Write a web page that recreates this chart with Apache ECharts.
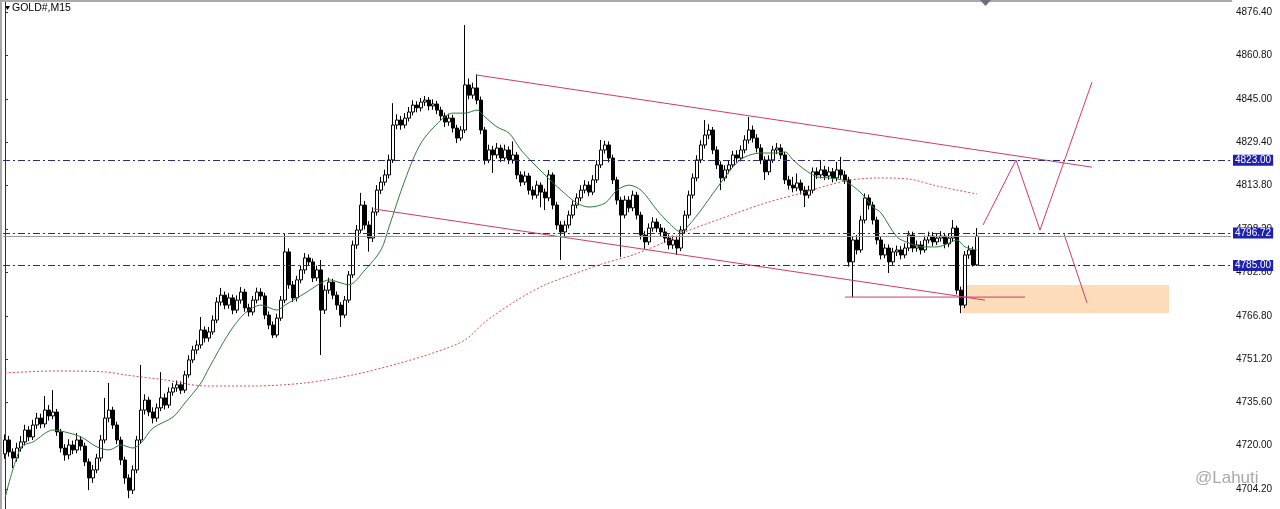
<!DOCTYPE html>
<html><head><meta charset="utf-8">
<script src="https://cdn.jsdelivr.net/npm/echarts@6/dist/echarts.min.js"></script>
<style>html,body{margin:0;padding:0;background:#fff}#c{width:1280px;height:509px}</style>
</head><body><div id="c"></div><script>
// ---- data ----
const yTicks = [4704.20, 4720.00, 4735.60, 4751.20, 4766.80, 4782.60, 4798.20, 4813.80, 4829.40, 4845.00, 4860.80, 4876.40];
const opens = [
4717.0,4722.0,4717.7,4715.5,4719.1,4721.3,4725.6,4723.1,4727.4,4729.9,
4727.8,4732.8,4730.7,4732.1,4724.9,4719.1,4716.6,4720.2,4718.4,4722.0,
4719.8,4714.1,4708.3,4711.2,4715.5,4722.0,4729.9,4732.8,4727.4,4722.0,
4714.8,4708.3,4703.9,4711.2,4722.0,4732.8,4736.4,4732.1,4729.9,4733.6,
4737.2,4734.6,4739.3,4740.8,4741.9,4740.0,4745.5,4750.9,4754.5,4756.3,
4761.7,4758.8,4761.0,4765.3,4771.8,4774.3,4770.7,4773.3,4768.9,4772.5,
4775.4,4769.7,4768.2,4772.5,4775.4,4774.0,4767.1,4763.5,4759.9,4766.0,
4772.5,4789.9,4778.0,4773.3,4779.8,4783.4,4787.7,4786.3,4780.5,4783.4,
4768.9,4776.1,4779.0,4774.3,4770.7,4767.1,4772.5,4781.6,4792.4,4797.8,
4806.8,4799.6,4794.9,4804.3,4812.2,4815.1,4817.7,4823.1,4835.7,4837.5,
4835.7,4838.2,4840.4,4842.9,4841.9,4844.0,4844.7,4842.6,4843.3,4841.1,
4839.0,4836.8,4838.2,4834.6,4831.0,4833.9,4850.2,4846.5,4849.1,4844.7,
4833.9,4823.1,4826.7,4824.9,4827.4,4823.8,4826.7,4823.1,4824.9,4817.7,
4815.1,4817.3,4812.2,4810.4,4814.0,4811.5,4809.4,4817.7,4806.8,4799.6,
4797.1,4799.6,4803.2,4806.8,4809.4,4812.2,4814.0,4811.5,4815.9,4821.3,
4826.7,4828.5,4823.8,4815.9,4808.6,4803.2,4808.6,4805.8,4810.4,4803.2,
4796.0,4793.5,4798.5,4800.7,4798.5,4797.1,4794.9,4792.4,4794.2,4791.3,
4797.8,4803.2,4810.4,4816.6,4823.1,4828.5,4832.1,4833.9,4826.7,4821.3,
4816.6,4819.5,4821.3,4824.9,4823.8,4826.7,4830.3,4833.9,4831.0,4827.4,
4823.1,4818.8,4823.1,4826.7,4827.4,4824.9,4815.9,4814.0,4813.0,4814.8,
4812.2,4810.4,4812.2,4818.8,4817.7,4819.5,4817.3,4818.8,4816.6,4819.5,
4817.7,4815.9,4786.3,4794.2,4790.6,4801.4,4809.4,4806.8,4801.4,4794.2,
4788.8,4791.3,4786.3,4789.9,4790.6,4788.8,4791.3,4796.0,4791.3,4792.4,
4790.6,4794.2,4795.6,4793.5,4794.9,4795.6,4792.8,4794.9,4798.5,4776.1,
4770.7,4788.8,4790.6,4785.2];
const closes = [
4722.0,4717.7,4715.5,4719.1,4721.3,4725.6,4723.1,4727.4,4729.9,4727.8,
4732.8,4730.7,4732.1,4724.9,4719.1,4716.6,4720.2,4718.4,4722.0,4719.8,
4714.1,4708.3,4711.2,4715.5,4722.0,4729.9,4732.8,4727.4,4722.0,4714.8,
4708.3,4703.9,4711.2,4722.0,4732.8,4736.4,4732.1,4729.9,4733.6,4737.2,
4734.6,4739.3,4740.8,4741.9,4740.0,4745.5,4750.9,4754.5,4756.3,4761.7,
4758.8,4761.0,4765.3,4771.8,4774.3,4770.7,4773.3,4768.9,4772.5,4775.4,
4769.7,4768.2,4772.5,4775.4,4774.0,4767.1,4763.5,4759.9,4766.0,4772.5,
4789.9,4778.0,4773.3,4779.8,4783.4,4787.7,4786.3,4780.5,4783.4,4768.9,
4776.1,4779.0,4774.3,4770.7,4767.1,4772.5,4781.6,4792.4,4797.8,4806.8,
4799.6,4794.9,4804.3,4812.2,4815.1,4817.7,4823.1,4835.7,4837.5,4835.7,
4838.2,4840.4,4842.9,4841.9,4844.0,4844.7,4842.6,4843.3,4841.1,4839.0,
4836.8,4838.2,4834.6,4831.0,4833.9,4850.2,4846.5,4849.1,4844.7,4833.9,
4823.1,4826.7,4824.9,4827.4,4823.8,4826.7,4823.1,4824.9,4817.7,4815.1,
4817.3,4812.2,4810.4,4814.0,4811.5,4809.4,4817.7,4806.8,4799.6,4797.1,
4799.6,4803.2,4806.8,4809.4,4812.2,4814.0,4811.5,4815.9,4821.3,4826.7,
4828.5,4823.8,4815.9,4808.6,4803.2,4808.6,4805.8,4810.4,4803.2,4796.0,
4793.5,4798.5,4800.7,4798.5,4797.1,4794.9,4792.4,4794.2,4791.3,4797.8,
4803.2,4810.4,4816.6,4823.1,4828.5,4832.1,4833.9,4826.7,4821.3,4816.6,
4819.5,4821.3,4824.9,4823.8,4826.7,4830.3,4833.9,4831.0,4827.4,4823.1,
4818.8,4823.1,4826.7,4827.4,4824.9,4815.9,4814.0,4813.0,4814.8,4812.2,
4810.4,4812.2,4818.8,4817.7,4819.5,4817.3,4818.8,4816.6,4819.5,4817.7,
4815.9,4786.3,4794.2,4790.6,4801.4,4809.4,4806.8,4801.4,4794.2,4788.8,
4791.3,4786.3,4789.9,4790.6,4788.8,4791.3,4796.0,4791.3,4792.4,4790.6,
4794.2,4795.6,4793.5,4794.9,4795.6,4792.8,4794.9,4798.5,4776.1,4770.7,
4788.8,4790.6,4785.2,4795.6];
const lows = [
4715.2,4716.0,4711.9,4714.2,4717.8,4720.0,4721.6,4722.0,4726.0,4726.2,
4726.5,4729.0,4729.5,4723.5,4717.5,4714.5,4715.0,4716.9,4717.2,4718.2,
4712.6,4703.9,4706.5,4710.0,4714.2,4720.8,4728.4,4726.0,4720.5,4713.0,
4706.2,4701.0,4702.5,4710.0,4720.8,4731.2,4730.6,4728.0,4728.6,4732.4,
4733.0,4733.5,4738.0,4739.4,4738.6,4739.0,4744.5,4749.8,4753.0,4755.0,
4757.2,4757.5,4760.0,4764.2,4770.5,4769.2,4769.4,4767.4,4767.8,4771.2,
4768.3,4766.6,4767.0,4771.3,4772.5,4765.6,4762.0,4758.8,4759.0,4765.0,
4771.4,4776.6,4771.8,4772.0,4778.6,4782.0,4784.8,4779.0,4779.4,4752.7,
4767.5,4774.8,4772.8,4769.0,4762.8,4766.0,4771.5,4780.5,4791.0,4796.6,
4798.0,4790.0,4793.5,4803.0,4810.8,4813.8,4816.4,4822.0,4834.2,4834.0,
4834.5,4837.0,4839.2,4840.3,4840.6,4842.6,4841.0,4841.2,4839.6,4837.4,
4835.0,4835.4,4833.0,4829.2,4830.0,4832.8,4845.0,4845.2,4843.2,4832.4,
4821.5,4822.0,4818.4,4823.6,4822.3,4822.6,4821.6,4821.8,4816.2,4813.6,
4814.0,4810.6,4808.8,4809.2,4806.0,4805.0,4808.2,4805.3,4798.0,4787.0,
4795.6,4798.4,4802.0,4805.6,4808.2,4811.0,4810.0,4810.4,4814.8,4820.2,
4825.4,4822.2,4814.4,4807.0,4788.1,4802.0,4804.2,4804.6,4801.6,4794.4,
4791.0,4792.4,4797.2,4797.0,4795.5,4793.2,4790.8,4791.0,4788.8,4790.2,
4796.6,4802.0,4809.2,4815.4,4822.0,4827.2,4830.6,4825.2,4819.8,4812.2,
4815.4,4818.2,4820.2,4822.2,4822.6,4825.5,4829.0,4829.4,4825.8,4821.6,
4815.9,4817.6,4822.0,4825.2,4823.4,4814.4,4812.4,4811.4,4811.8,4810.6,
4806.1,4809.2,4811.0,4816.2,4816.4,4815.8,4816.0,4815.0,4815.4,4816.2,
4814.4,4784.6,4773.6,4789.0,4789.6,4800.2,4805.2,4799.8,4792.6,4787.2,
4787.6,4782.3,4785.2,4788.4,4787.2,4787.6,4790.2,4789.8,4790.0,4789.0,
4789.6,4793.0,4792.0,4792.4,4793.6,4791.2,4791.6,4793.6,4774.6,4767.8,
4769.6,4787.4,4784.6,4784.8];
const highs = [
4724.0,4723.5,4719.0,4721.0,4723.4,4727.5,4727.0,4729.3,4731.8,4731.5,
4737.9,4734.6,4740.0,4733.2,4726.0,4720.5,4722.3,4721.8,4724.5,4723.4,
4721.0,4715.3,4713.0,4717.0,4723.8,4737.2,4742.6,4734.0,4728.6,4723.2,
4716.0,4709.6,4712.8,4723.5,4749.1,4738.5,4737.6,4733.8,4735.2,4746.5,
4738.8,4741.0,4742.6,4743.5,4743.2,4747.0,4752.6,4756.0,4758.0,4766.4,
4763.0,4762.8,4767.0,4773.5,4776.9,4775.6,4775.0,4774.5,4774.2,4777.2,
4776.6,4771.2,4774.0,4777.0,4776.8,4775.2,4768.4,4764.8,4767.6,4774.0,
4796.7,4791.2,4779.4,4781.3,4785.0,4789.5,4789.0,4787.5,4785.0,4787.0,
4777.8,4780.6,4780.2,4775.6,4771.8,4774.0,4783.0,4794.0,4799.6,4811.2,
4808.3,4801.0,4806.0,4814.0,4817.0,4819.6,4825.0,4843.6,4839.6,4839.0,
4840.0,4842.2,4844.6,4844.3,4845.5,4846.2,4845.8,4845.0,4844.4,4842.3,
4840.2,4839.8,4839.4,4835.8,4835.3,4871.8,4852.5,4851.0,4854.0,4846.0,
4835.0,4828.6,4828.2,4829.2,4828.6,4828.6,4828.0,4829.8,4826.0,4819.0,
4819.0,4818.4,4813.6,4815.6,4815.0,4812.8,4819.5,4818.6,4808.0,4801.0,
4801.2,4804.8,4808.4,4811.0,4814.0,4815.8,4815.4,4817.6,4823.0,4830.3,
4830.0,4829.8,4825.0,4817.0,4809.8,4810.2,4810.0,4812.0,4811.6,4804.4,
4797.4,4800.2,4802.4,4802.0,4800.0,4798.6,4796.2,4795.8,4795.6,4799.2,
4804.8,4812.0,4818.2,4824.8,4830.2,4837.5,4836.0,4835.0,4828.0,4822.6,
4821.2,4823.0,4826.4,4826.6,4828.4,4832.0,4838.6,4835.5,4832.4,4828.8,
4824.4,4824.8,4828.2,4829.2,4828.8,4826.0,4817.4,4817.0,4818.2,4816.0,
4813.6,4813.8,4820.4,4820.4,4823.1,4821.0,4820.6,4820.2,4822.4,4824.2,
4819.2,4817.0,4795.6,4796.0,4803.0,4811.0,4810.6,4808.0,4802.6,4795.4,
4792.8,4792.6,4791.4,4792.2,4792.0,4793.0,4797.5,4797.2,4794.0,4793.8,
4795.8,4797.2,4797.0,4796.6,4797.4,4796.8,4796.4,4801.4,4799.4,4777.4,
4790.2,4792.2,4791.8,4798.5];
// moving averages read at sample bars: [bar index, price]
const maFast = [[0,4701.0],[4,4719.5],[7,4721.3],[12,4725.6],[15,4724.9],[19,4723.1],[23,4719.5],[26,4718.4],[29,4720.2],[32,4719.1],[34,4720.9],[37,4726.3],[42,4730.3],[45,4735.4],[49,4742.6],[51,4748.0],[56,4760.6],[60,4767.8],[64,4770.7],[68,4768.9],[70,4770.7],[75,4775.0],[79,4778.7],[81,4779.8],[84,4778.7],[86,4778.0],[90,4783.4],[94,4790.6],[96,4798.9],[100,4815.9],[104,4829.2],[109,4837.5],[112,4840.0],[115,4840.0],[118,4841.1],[120,4838.6],[123,4835.0],[126,4832.8],[129,4826.7],[132,4822.0],[135,4817.7],[139,4812.2],[143,4807.5],[146,4806.1],[150,4807.5],[153,4812.2],[156,4814.0],[159,4812.2],[163,4805.0],[166,4800.3],[169,4797.1],[171,4799.6],[174,4805.0],[178,4813.0],[182,4820.6],[185,4824.2],[189,4825.6],[193,4825.6],[195,4826.0],[197,4823.1],[200,4819.5],[203,4817.0],[206,4816.6],[210,4815.5],[214,4811.2],[217,4806.1],[219,4804.0],[223,4795.3],[226,4793.1],[229,4791.7],[233,4791.7],[236,4793.1],[238,4794.2],[240,4791.7],[243,4790.6]];
const maSlow = [[0,4746.2],[12,4746.9],[25,4746.6],[30,4745.5],[40,4743.7],[50,4741.5],[62,4741.5],[75,4742.6],[87,4745.5],[97,4749.1],[107,4753.4],[115,4758.1],[120,4764.6],[128,4772.5],[135,4778.0],[145,4783.4],[150,4785.9],[157,4788.8],[165,4793.5],[170,4797.1],[178,4801.4],[190,4807.5],[200,4811.5],[210,4815.5],[218,4816.6],[226,4816.2],[233,4813.7],[238,4812.2],[243,4810.8]];
// drawn objects: [bar position, price]
const channelTop = [[117.75,4853.8],[271.75,4820.5]];
const channelBottom = [[92.25,4805.4],[245,4772.5]];
const supportLine = [[210,4773.6],[255,4773.6]];
const projectionUp = [[244.5,4799.6],[252.75,4823.1],[258.75,4797.8],[271.75,4851.2]];
const projectionDown = [[264.75,4796.4],[270.5,4771.5]];
const demandZone = [[239.25,4778.0],[291,4767.8]];
const levels = [4823.00, 4796.72, 4785.00];
const bidPrice = 4795.6;

const SLOTS = 307, Y_MIN = 4697.09, Y_MAX = 4880.12;
const cats = []; for (let i = 0; i < SLOTS; i++) cats.push(String(i));
const candles = opens.map((o, i) => [o, closes[i], lows[i], highs[i]]);
const PINK = '#d03a6a';
const annot = (d) => ({type:'line', xAxisIndex:1, data:d, symbol:'none', silent:true, z:4,
  lineStyle:{color:PINK, width:1}});

const chart = echarts.init(document.getElementById('c'), null, {renderer:'canvas'});
chart.setOption({
  animation:false,
  backgroundColor:'#ffffff',
  grid:{left:3, right:49, top:2, bottom:0},
  xAxis:[
    {type:'category', data:cats, show:false, boundaryGap:true},
    {type:'value', min:-0.5, max:SLOTS-0.5, show:false}
  ],
  yAxis:{type:'value', position:'right', min:Y_MIN, max:Y_MAX,
    axisLine:{show:true, lineStyle:{color:'#333', width:1}},
    axisTick:{show:true, length:3, customValues:yTicks, lineStyle:{color:'#333'}},
    axisLabel:{customValues:yTicks, formatter:v => v.toFixed(2), color:'#111', fontSize:10,
      fontFamily:'Liberation Sans, Arial, sans-serif', margin:5},
    splitLine:{show:false}},
  series:[
    {type:'line', xAxisIndex:1, data:[], z:1, silent:true,
      markArea:{silent:true, itemStyle:{color:'#fcdcb9'},
        data:[[{coord:demandZone[0]},{coord:demandZone[1]}]]}},
    {type:'candlestick', xAxisIndex:0, data:candles, barWidth:3, z:3,
      itemStyle:{color:'#ffffff', color0:'#000000', borderColor:'#000000', borderColor0:'#000000', borderWidth:1}},
    {type:'line', xAxisIndex:1, data:maFast, symbol:'none', smooth:0.3, z:4, silent:true,
      lineStyle:{color:'#2f7d3a', width:1}},
    {type:'line', xAxisIndex:1, data:maSlow, symbol:'none', smooth:0.3, z:4, silent:true,
      lineStyle:{color:'#e0464f', width:1, type:[2,2]}},
    annot(channelTop), annot(channelBottom), annot(supportLine), annot(projectionUp), annot(projectionDown),
    {type:'line', xAxisIndex:1, data:[], z:10, silent:true,
      markLine:{silent:true, symbol:['none','none'], z:10,
        data:[
          ...levels.map(v => ({yAxis:v, lineStyle:{color:'#2c2c78', width:1, type:[7,3,2,3]},
            label:{show:true, position:'end', distance:2, formatter:v.toFixed(2), color:'#ffffff',
              backgroundColor:'#1f1fb0', padding:[1,2,0,2], fontSize:10, fontFamily:'Liberation Sans, Arial, sans-serif'}})),
          {yAxis:bidPrice, lineStyle:{color:'#9a9a9a', width:1, type:'solid'}, label:{show:false}}
        ]}}
  ],
  graphic:[
    {type:'rect', shape:{x:0, y:0, width:1232, height:2}, style:{fill:'#a9a9a9'}, z:100},
    {type:'rect', shape:{x:0, y:0, width:2, height:509}, style:{fill:'#a9a9a9'}, z:100},
    {type:'polygon', shape:{points:[[980,0],[991,0],[985.5,6]]}, style:{fill:'#6e6e7e'}, z:100},
    {type:'polygon', shape:{points:[[5,6],[10,6],[7.5,10]]}, style:{fill:'#000'}, z:100},
    {type:'text', x:12, y:8, style:{text:'GOLD#,M15', fill:'#000', font:'10.5px "Liberation Sans", Arial, sans-serif', textVerticalAlign:'middle'}, z:100},
    {type:'text', x:1195, y:478, style:{text:'@Lahuti', fill:'#a8a8a8', font:'17px "Liberation Sans", Arial, sans-serif', textVerticalAlign:'middle'}, z:100}
  ]
});
</script></body></html>
